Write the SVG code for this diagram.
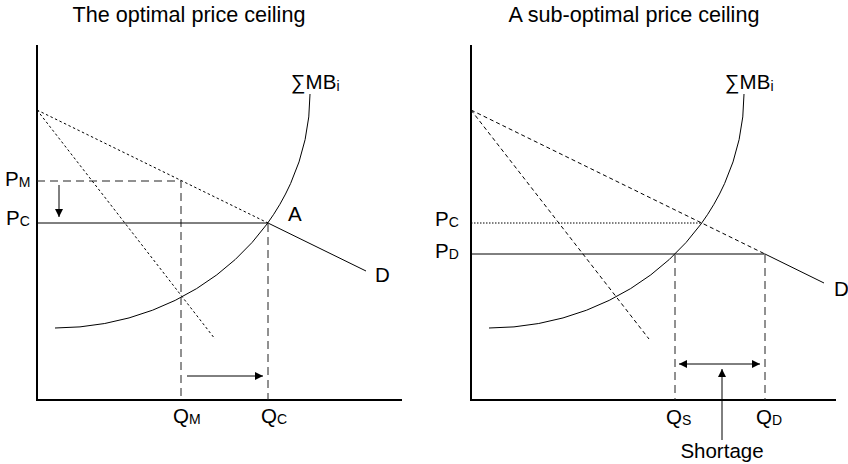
<svg xmlns="http://www.w3.org/2000/svg" width="848" height="464" viewBox="0 0 848 464">
<style>
text{font-family:"Liberation Sans",Arial,sans-serif;fill:#000}
.title{font-size:21.6px}
.lbl{font-size:20.5px}
.sub{font-size:14px}
.axis{stroke:#000;stroke-width:2;fill:none}
.solid{stroke:#000;stroke-width:1;fill:none}
.dot{stroke:#000;stroke-width:1;fill:none;stroke-dasharray:2.5,2.5}
.dash{stroke:#000;stroke-width:1;fill:none;stroke-dasharray:4,3}
.long{stroke:#222;stroke-width:1;fill:none;stroke-dasharray:8,5}
.fine{stroke:#000;stroke-width:1;fill:none;stroke-dasharray:1.5,1.5}
</style>
<defs>
<marker id="ah" viewBox="0 0 10 10" refX="10" refY="5" markerWidth="8" markerHeight="8" markerUnits="userSpaceOnUse" orient="auto-start-reverse">
<path d="M0,0 L10,5 L0,10 z" fill="#000"/>
</marker>
</defs>

<g id="left-panel">
<text class="title" x="189" y="22" text-anchor="middle">The optimal price ceiling</text>
<path class="axis" d="M37,45 V400 H402"/>
<g id="left-curves">
<path class="solid" d="M55,328 A255,234 0 0,0 310,94"/>
<path class="dot" d="M37,110 L268,223"/>
<path class="solid" d="M268,223 L366,271"/>
<path class="dot" d="M37,110 L215,339"/>
<path class="long" d="M37,181 H181 V400"/>
<path class="solid" d="M37,223 H268"/>
<path class="long" d="M268,224 V400"/>
<path class="solid" d="M59,185 V217" marker-end="url(#ah)"/>
<path class="solid" d="M187,376 H263" marker-end="url(#ah)"/>
</g>
<text class="lbl" x="291" y="89">∑MB<tspan class="sub" dy="2">i</tspan></text>
<text class="lbl" x="5" y="186">P<tspan class="sub" dy="1">M</tspan></text>
<text class="lbl" x="6" y="225">P<tspan class="sub" dy="1">C</tspan></text>
<text class="lbl" x="288" y="221">A</text>
<text class="lbl" x="375" y="282">D</text>
<text class="lbl" x="173" y="423">Q<tspan class="sub" dy="1">M</tspan></text>
<text class="lbl" x="261" y="423">Q<tspan class="sub" dy="1">C</tspan></text>
</g>

<g id="right-panel">
<text class="title" x="634" y="22" text-anchor="middle">A sub-optimal price ceiling</text>
<path class="axis" d="M471,45 V400 H836"/>
<g id="right-curves">
<path class="solid" d="M489,328 A255,234 0 0,0 744,94"/>
<path class="dash" d="M471,110 L765,254"/>
<path class="solid" d="M765,254 L824,283"/>
<path class="dash" d="M471,110 L649,339"/>
<path class="fine" d="M471,223 H702"/>
<path class="solid" d="M471,254 H765"/>
<path class="long" d="M675,255 V400"/>
<path class="long" d="M765,255 V400"/>
<path class="solid" d="M679,364 H760" marker-start="url(#ah)" marker-end="url(#ah)"/>
<path class="solid" d="M722,440 V369" marker-end="url(#ah)"/>
</g>
<text class="lbl" x="725" y="89">∑MB<tspan class="sub" dy="2">i</tspan></text>
<text class="lbl" x="435" y="226">P<tspan class="sub" dy="1">C</tspan></text>
<text class="lbl" x="435" y="258">P<tspan class="sub" dy="1">D</tspan></text>
<text class="lbl" x="834" y="296">D</text>
<text class="lbl" x="666" y="424">Q<tspan class="sub" dy="1">S</tspan></text>
<text class="lbl" x="756" y="424">Q<tspan class="sub" dy="1">D</tspan></text>
<text class="lbl" x="722" y="458" text-anchor="middle">Shortage</text>
</g>
</svg>
